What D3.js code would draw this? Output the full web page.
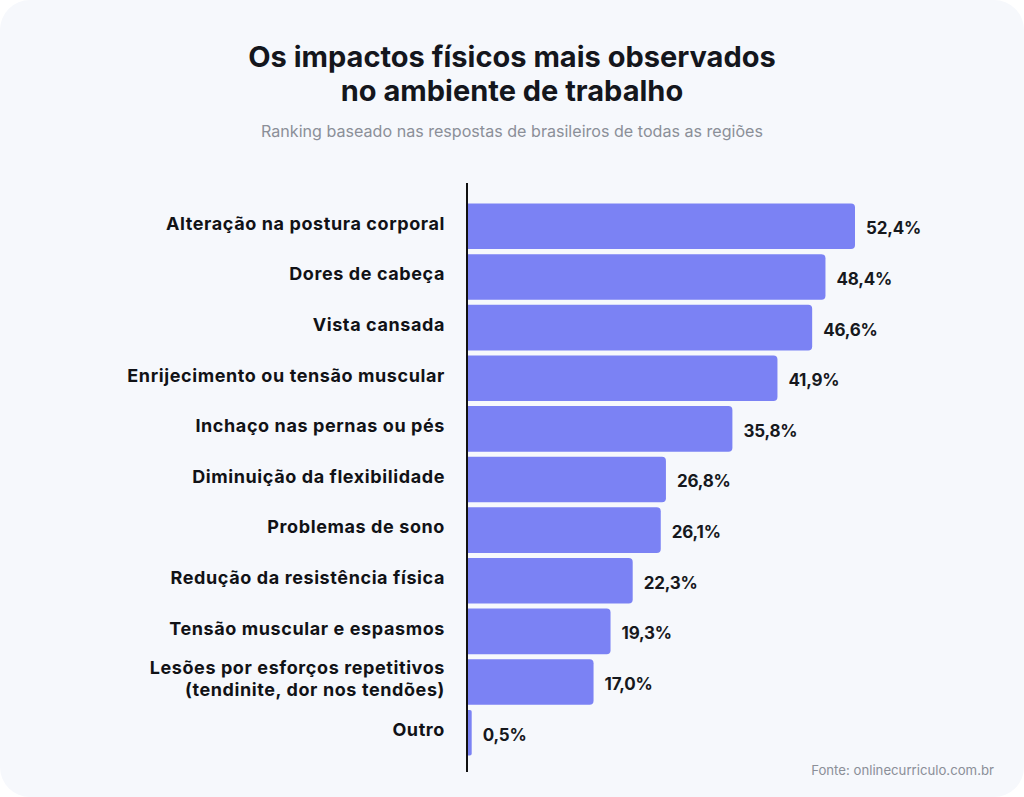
<!DOCTYPE html>
<html>
<head>
<meta charset="utf-8">
<script src="https://cdn.jsdelivr.net/npm/d3@7"></script>
<style>
  html, body { margin: 0; padding: 0; background: #ffffff; }
  svg { display: block; font-family: Inter, "Open Sans", sans-serif; }
</style>
</head>
<body>
<script>
const categories = [
  ['Alteração na postura corporal'],
  ['Dores de cabeça'],
  ['Vista cansada'],
  ['Enrijecimento ou tensão muscular'],
  ['Inchaço nas pernas ou pés'],
  ['Diminuição da flexibilidade'],
  ['Problemas de sono'],
  ['Redução da resistência física'],
  ['Tensão muscular e espasmos'],
  ['Lesões por esforços repetitivos', '(tendinite, dor nos tendões)'],
  ['Outro']
]
const values = [52.4, 48.4, 46.6, 41.9, 35.8, 26.8, 26.1, 22.3, 19.3, 17.0, 0.5]

const width = 1024
const height = 797

const rows = categories.map((lines, i) => ({ key: i, lines, value: values[i] }))

const svg = d3.select('body')
  .append('svg')
  .attr('width', width)
  .attr('height', height)

svg.append('rect')
  .attr('x', 0).attr('y', 0)
  .attr('width', width).attr('height', height)
  .attr('rx', 30)
  .attr('fill', '#f6f8fc')

svg.append('text')
  .attr('x', 512)
  .attr('text-anchor', 'middle')
  .attr('font-size', 29)
  .attr('font-weight', 700)
  .attr('fill', '#14161c')
  .selectAll('tspan')
  .data(['Os impactos físicos mais observados', 'no ambiente de trabalho'])
  .enter().append('tspan')
  .attr('x', 512)
  .attr('y', (d, i) => 67 + i * 34)
  .text(d => d)

svg.append('text')
  .attr('x', 512)
  .attr('y', 137)
  .attr('text-anchor', 'middle')
  .attr('font-size', 16.1)
  .attr('fill', '#8b8f98')
  .text('Ranking baseado nas respostas de brasileiros de todas as regiões')

const x0 = 468
const x = d3.scaleLinear().domain([0, 52.4]).range([x0, 855])
const y = d3.scaleBand()
  .domain(rows.map(d => d.key))
  .range([201, 758])
  .paddingInner(0.1)
  .paddingOuter(0.05)

const bars = svg.append('g')

bars.selectAll('path')
  .data(rows)
  .enter().append('path')
  .attr('fill', '#7b82f4')
  .attr('d', d => {
    const x1 = x(d.value)
    const y0 = y(d.key)
    const h = y.bandwidth()
    const r = Math.min(4, (x1 - x0) / 2)
    return `M${x0},${y0}H${x1 - r}Q${x1},${y0} ${x1},${y0 + r}V${y0 + h - r}Q${x1},${y0 + h} ${x1 - r},${y0 + h}H${x0}Z`
  })

svg.append('line')
  .attr('x1', 467).attr('x2', 467)
  .attr('y1', 183).attr('y2', 772)
  .attr('stroke', '#111')
  .attr('stroke-width', 2)

bars.selectAll('text.value')
  .data(rows)
  .enter().append('text')
  .classed('value', true)
  .attr('x', d => x(d.value) + 11)
  .attr('y', d => y(d.key) + y.bandwidth() / 2 + 2)
  .attr('dy', '0.35em')
  .attr('font-size', 17)
  .attr('font-weight', 700)
  .attr('letter-spacing', -0.2)
  .attr('fill', '#16181d')
  .text(d => d3.format('.1f')(d.value).replace('.', ',') + '%')

const labels = svg.append('g')
  .attr('text-anchor', 'end')
  .attr('font-size', 18)
  .attr('font-weight', 700)
  .attr('letter-spacing', 0.6)
  .attr('fill', '#111216')

labels.selectAll('text')
  .data(rows)
  .enter().append('text')
  .attr('y', d => y(d.key) + y.bandwidth() / 2 - 3)
  .selectAll('tspan')
  .data(d => d.lines.map((t, i) => ({ t, i, n: d.lines.length })))
  .enter().append('tspan')
  .attr('x', 445)
  .attr('dy', d => d.i === 0 ? `${0.35 - (d.n - 1) * 0.62}em` : '1.2em')
  .text(d => d.t)

svg.append('text')
  .attr('x', 994)
  .attr('y', 775)
  .attr('text-anchor', 'end')
  .attr('font-size', 13.2)
  .attr('fill', '#8b8f98')
  .text('Fonte: onlinecurriculo.com.br')
</script>
</body>
</html>
